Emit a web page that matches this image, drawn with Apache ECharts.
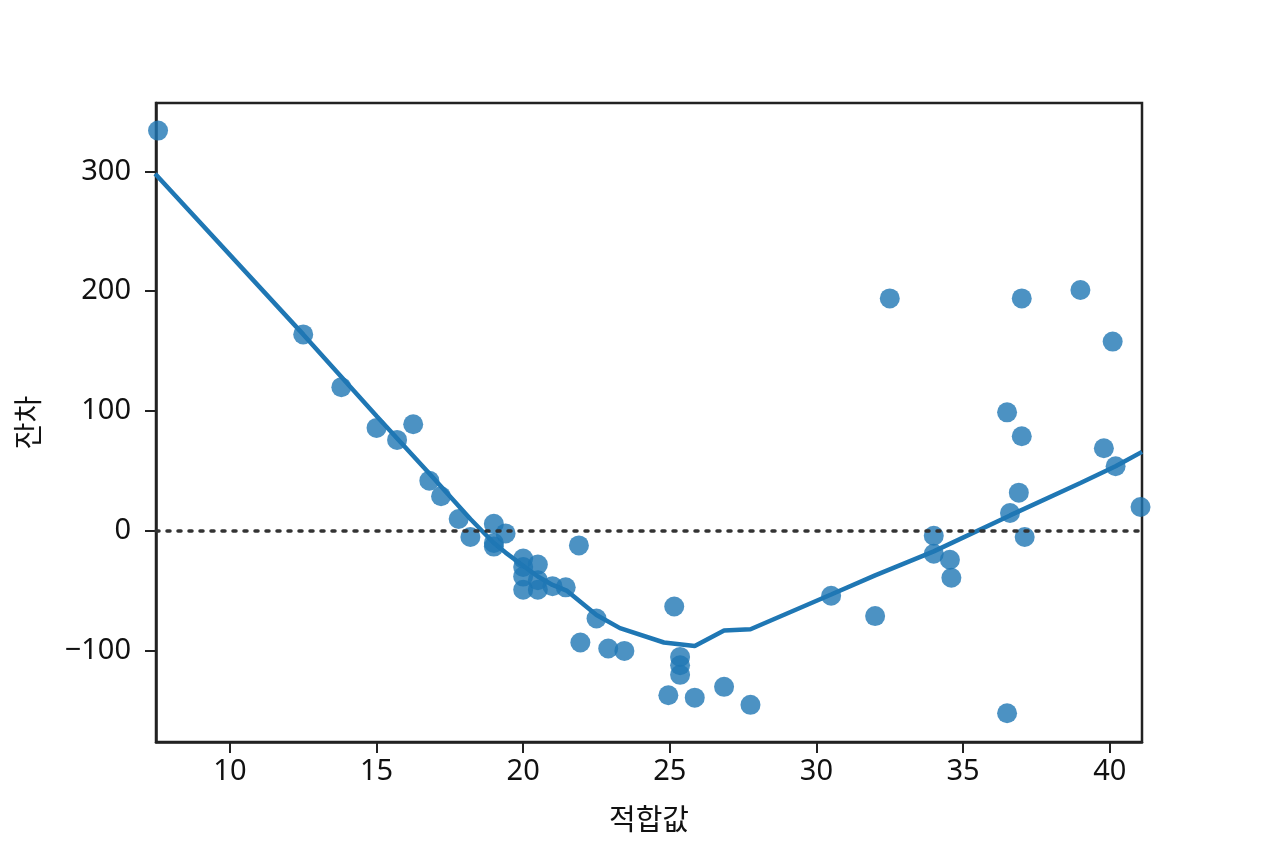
<!DOCTYPE html>
<html>
<head>
<meta charset="utf-8">
<script src="https://cdn.jsdelivr.net/npm/echarts@6/dist/echarts.min.js"></script>
<style>
  html, body { margin: 0; padding: 0; background: #fff; }
  #chart { width: 1264px; height: 848px; }
</style>
</head>
<body>
<div id="chart"></div>
<script>
// fitted values and residuals
const fittedX = [7.55, 12.5, 13.8, 15.0, 15.7, 16.25, 16.8, 17.2, 17.8, 18.2,
  19.0, 19.4, 19.0, 19.0, 20.0, 20.0, 20.0, 20.0, 20.5, 20.5,
  20.5, 21.0, 21.45, 21.9, 22.5, 21.95, 22.9, 23.45, 25.15, 25.35,
  25.35, 25.35, 24.95, 25.85, 26.85, 27.75, 30.5, 32.0, 32.5, 34.0,
  34.0, 34.55, 34.6, 36.5, 37.0, 36.9, 36.6, 37.1, 36.5, 37.0,
  39.0, 40.1, 39.8, 40.2, 41.05];
const residY = [334, 164, 120, 86, 76, 89, 42, 29, 10, -5,
  6, -2, -10, -13, -23, -30, -38, -49, -28, -41,
  -49, -46, -47, -12, -73, -93, -98, -100, -63, -105,
  -112, -120, -137, -139, -130, -145, -54, -71, 194, -4,
  -19, -24, -39, 99, 79, 32, 15, -5, -152, 194,
  201, 158, 69, 54, 20];

// lowess curve
const lowessX = [7.45, 12.5, 15.0, 16.8, 18.2, 19.0, 19.4, 20.0, 20.5, 21.0,
  21.5, 22.5, 23.3, 24.8, 25.85, 26.85, 27.75, 30.5, 32.0, 34.0,
  36.6, 39.0, 40.2, 41.1];
const lowessY = [298, 164, 96, 48, 10, -10, -18, -29, -38, -45,
  -50, -70, -81, -93, -96, -83, -82, -53, -37, -17,
  13, 40, 54, 66];

const xTicks = [10, 15, 20, 25, 30, 35, 40];
const yTicks = [-100, 0, 100, 200, 300];

const tickFont = { fontFamily: 'Noto Sans', fontSize: 29, color: '#111' };
const minusFmt = v => String(v).replace('-', '\u2212');

const chart = echarts.init(document.getElementById('chart'));
chart.setOption({
  animation: false,
  grid: {
    left: 156, right: 122, top: 103, bottom: 106,
    show: true, borderColor: '#222', borderWidth: 2.5
  },
  xAxis: {
    type: 'value',
    min: 7.48, max: 41.1,
    name: '적합값',
    nameLocation: 'middle',
    nameGap: 62,
    nameTextStyle: { fontFamily: 'Noto Sans CJK KR', fontSize: 29, color: '#111' },
    axisLine: { show: true, onZero: false, lineStyle: { color: '#222', width: 2.5 } },
    axisTick: { show: true, customValues: xTicks, length: 11, lineStyle: { color: '#222', width: 2 } },
    axisLabel: Object.assign({ customValues: xTicks, margin: 15, formatter: minusFmt }, tickFont),
    splitLine: { show: false }
  },
  yAxis: {
    type: 'value',
    min: -176, max: 357,
    name: '잔차',
    nameLocation: 'middle',
    nameGap: 114,
    nameRotate: 90,
    nameTextStyle: { fontFamily: 'Noto Sans CJK KR', fontSize: 29, color: '#111' },
    axisLine: { show: true, onZero: false, lineStyle: { color: '#222', width: 2.5 } },
    axisTick: { show: true, customValues: yTicks, length: 11, lineStyle: { color: '#222', width: 2 } },
    axisLabel: Object.assign({ customValues: yTicks, margin: 25, formatter: minusFmt }, tickFont),
    splitLine: { show: false }
  },
  series: [
    {
      type: 'scatter',
      data: fittedX.map((x, i) => [x, residY[i]]),
      symbolSize: 20,
      itemStyle: { color: '#1f77b4', opacity: 0.8 },
      z: 2,
      markLine: {
        silent: true,
        symbol: 'none',
        label: { show: false },
        lineStyle: { color: '#333', type: [3, 8], width: 3.5, cap: 'round' },
        data: [{ yAxis: 0 }]
      }
    },
    {
      type: 'line',
      data: lowessX.map((x, i) => [x, lowessY[i]]),
      showSymbol: false,
      lineStyle: { color: '#1f77b4', width: 4.5 },
      z: 3
    }
  ]
});
</script>
</body>
</html>
